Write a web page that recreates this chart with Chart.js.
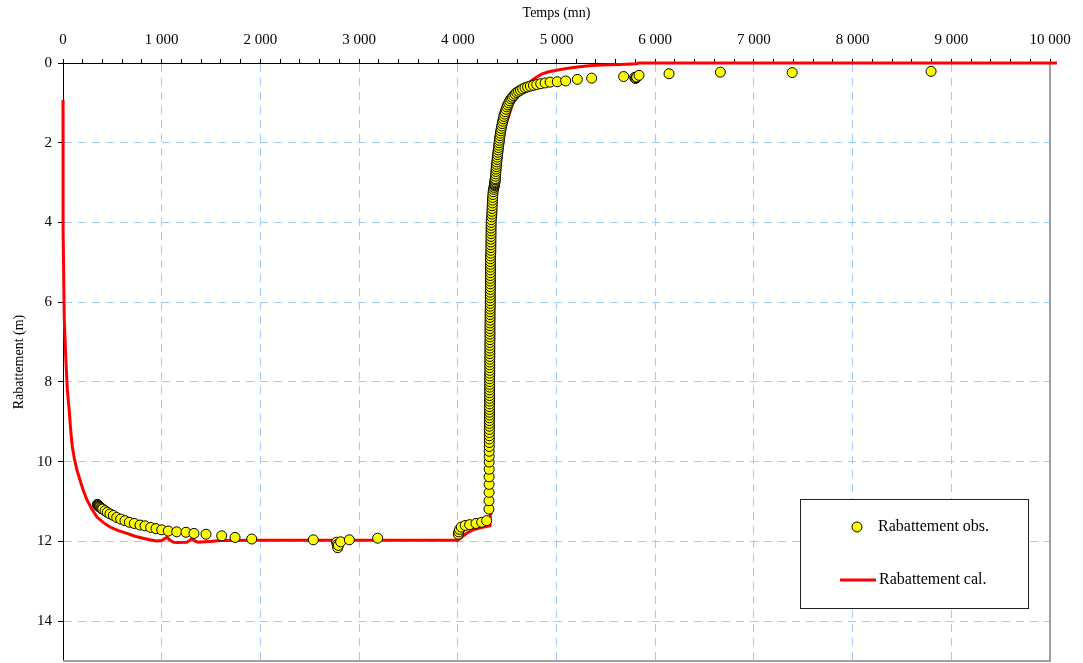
<!DOCTYPE html>
<html>
<head>
<meta charset="utf-8">
<title>Rabattement</title>
<script src="https://cdn.jsdelivr.net/npm/chart.js@4/dist/chart.umd.min.js"></script>
<style>
  html, body { margin: 0; padding: 0; background: #ffffff; }
  #wrap { width: 1083px; height: 663px; }
</style>
</head>
<body>
<div id="wrap"><canvas id="c" width="1083" height="663"></canvas></div>
<script>
// Top axis labels (every 1000 min)
const xTickLabels = ['0', '1 000', '2 000', '3 000', '4 000', '5 000', '6 000', '7 000', '8 000', '9 000', '10 000'];

// Observed drawdown: time (min) and drawdown (m)
const obsTime = [
  348, 352, 358, 363, 368, 375, 385, 393, 402, 426, 449, 476, 510, 544, 584, 628, 672, 722, 780, 831,
  888, 942, 1000, 1067, 1152, 1246, 1327, 1449, 1608, 1743, 1912, 2536, 2772, 2778, 2783, 2790, 2813, 2901, 3188,
  4005, 4010, 4018, 4035, 4075, 4120, 4184, 4242, 4292,
  4316, 4316, 4317, 4317, 4317, 4318, 4318, 4318, 4318, 4319, 4319, 4319, 4319, 4320, 4320, 4320, 4320, 4320,
  4321, 4321, 4321, 4321, 4321, 4322, 4322, 4322, 4322, 4322, 4322, 4323, 4323, 4323, 4323, 4323,
  4324, 4324, 4324, 4324, 4324, 4324, 4325, 4325, 4325, 4325, 4325, 4325, 4326, 4326, 4326, 4326, 4326, 4326, 4326,
  4327, 4327, 4327, 4327, 4328, 4329, 4329, 4329, 4329, 4329, 4329, 4330, 4330, 4330, 4330, 4330, 4330,
  4331, 4331, 4331, 4331, 4331, 4331, 4332, 4334, 4335, 4335, 4335, 4336, 4336, 4336, 4337, 4337, 4337, 4338, 4338, 4339,
  4343, 4345, 4346, 4347, 4348, 4350, 4351, 4353, 4355, 4358, 4362, 4366, 4370, 4372, 4374, 4375, 4377, 4378,
  4380, 4382, 4384, 4386, 4388, 4390, 4393, 4395, 4398, 4400, 4403, 4406, 4409, 4412, 4415, 4418, 4421, 4424, 4428,
  4432, 4436, 4440, 4445, 4450, 4455, 4461, 4467, 4474, 4481, 4489, 4497, 4506, 4516, 4527, 4539, 4552, 4566, 4581,
  4597, 4615, 4635, 4657, 4681, 4707, 4735, 4766, 4800, 4840, 4885, 4935, 5008, 5093, 5211, 5356, 5680,
  5792, 5800, 5806, 5812, 5836, 6140, 6660, 7388, 8795
];
const obsDrawdown = [
  11.07, 11.09, 11.10, 11.12, 11.13, 11.14, 11.16, 11.18, 11.19, 11.23, 11.27, 11.31, 11.35, 11.40, 11.44, 11.48, 11.52, 11.55, 11.59, 11.61,
  11.65, 11.68, 11.71, 11.74, 11.76, 11.77, 11.80, 11.82, 11.86, 11.90, 11.94, 11.96, 12.02, 12.08, 12.16, 12.10, 12.01, 11.96, 11.92,
  11.82, 11.76, 11.70, 11.64, 11.60, 11.58, 11.55, 11.52, 11.48,
  11.19, 10.98, 10.77, 10.57, 10.38, 10.19, 10.01, 9.87, 9.74, 9.62, 9.52, 9.43, 9.35, 9.27, 9.19, 9.11, 9.04, 8.97,
  8.90, 8.83, 8.76, 8.69, 8.62, 8.55, 8.48, 8.41, 8.34, 8.27, 8.20, 8.13, 8.06, 7.99, 7.92, 7.85,
  7.78, 7.71, 7.64, 7.57, 7.50, 7.43, 7.36, 7.29, 7.22, 7.15, 7.08, 7.01, 6.94, 6.87, 6.80, 6.73, 6.66, 6.59, 6.52,
  6.45, 6.38, 6.31, 6.24, 6.17, 6.10, 6.03, 5.96, 5.89, 5.82, 5.75, 5.68, 5.61, 5.54, 5.47, 5.40, 5.33,
  5.26, 5.19, 5.12, 5.05, 4.98, 4.91, 4.84, 4.77, 4.70, 4.63, 4.56, 4.49, 4.42, 4.35, 4.28, 4.21, 4.14, 4.07, 4.00, 3.93,
  3.86, 3.79, 3.72, 3.65, 3.58, 3.51, 3.44, 3.37, 3.30, 3.23, 3.17, 3.12, 3.08, 3.05, 3.03, 3.00, 2.97, 2.93,
  2.90, 2.84, 2.78, 2.72, 2.66, 2.60, 2.54, 2.48, 2.42, 2.36, 2.30, 2.24, 2.18, 2.12, 2.06, 2.00, 1.94, 1.88, 1.82,
  1.76, 1.70, 1.64, 1.58, 1.52, 1.46, 1.40, 1.34, 1.28, 1.22, 1.16, 1.10, 1.05, 1.00, 0.95, 0.90, 0.86, 0.82, 0.78,
  0.74, 0.71, 0.68, 0.65, 0.62, 0.60, 0.58, 0.56, 0.54, 0.52, 0.50, 0.48, 0.47, 0.45, 0.41, 0.38, 0.34,
  0.36, 0.39, 0.37, 0.35, 0.31, 0.27, 0.23, 0.24, 0.21
];

// Computed drawdown: time (min) and drawdown (m)
const calTime = [
  0, 1, 13, 30, 44, 61, 81, 94, 115, 140, 172, 205, 243, 290, 344, 410, 476, 560, 648, 730, 811, 880, 952,
  1000, 1030, 1054, 1085, 1120, 1155, 1256, 1285, 1307, 1335, 1368, 1430, 1489, 1590, 2000, 3000, 4000,
  4050, 4100, 4154, 4240, 4326, 4330, 4333, 4336, 4340, 4345, 4352, 4362, 4378, 4398, 4422, 4450, 4485,
  4520, 4545, 4565, 4600, 4650, 4700, 4750, 4800, 4850, 4920, 5000, 5100, 5210, 5330, 5460, 5640, 5815, 5830, 10070
];
const calDrawdown = [
  0.93, 4.19, 6.45, 7.49, 8.20, 8.66, 9.29, 9.62, 9.92, 10.20, 10.46, 10.72, 10.96, 11.18, 11.39, 11.53, 11.64, 11.73, 11.80, 11.87, 11.92, 11.96, 11.99,
  11.98, 11.93, 11.90, 11.97, 12.02, 12.03, 12.02, 11.97, 11.93, 11.99, 12.02, 12.01, 12.00, 11.98, 11.97, 11.97, 11.97,
  11.87, 11.78, 11.71, 11.65, 11.61, 11.30, 10.00, 8.50, 7.00, 5.50, 4.50, 3.70, 3.00, 2.50, 2.10, 1.80, 1.55,
  1.30, 1.10, 0.95, 0.82, 0.66, 0.54, 0.44, 0.35, 0.28, 0.22, 0.18, 0.14, 0.10, 0.07, 0.05, 0.035, 0.02, 0.0, 0.0
];

const SERIF = '"Liberation Serif", "Times New Roman", "DejaVu Serif", serif';
Chart.defaults.font.family = SERIF;
Chart.defaults.color = '#000000';

const obsPoints = obsTime.map((t, i) => ({ x: t, y: obsDrawdown[i] }));
const calPoints = calTime.map((t, i) => ({ x: t, y: calDrawdown[i] }));

const GRID_BLUE = '#9fcbfa';

// Grey frame on the right and bottom sides of the plot area
const plotFrame = {
  id: 'plotFrame',
  beforeDatasetsDraw(chart) {
    const { ctx, chartArea: a } = chart;
    ctx.save();
    ctx.strokeStyle = '#a0a0a0';
    ctx.lineWidth = 2;
    ctx.beginPath();
    ctx.moveTo(a.right, a.top);
    ctx.lineTo(a.right, a.bottom);
    ctx.lineTo(a.left, a.bottom);
    ctx.stroke();
    ctx.restore();
  }
};

// Boxed legend inside the plot area, lower right
const boxLegend = {
  id: 'boxLegend',
  afterDatasetsDraw(chart) {
    const { ctx, chartArea: a } = chart;
    const [obs, cal] = chart.data.datasets;
    const x0 = a.right - 250, y0 = a.bottom - 162, w = 228, h = 109;
    ctx.save();
    ctx.fillStyle = '#ffffff';
    ctx.fillRect(x0, y0, w, h);
    ctx.strokeStyle = '#222222';
    ctx.lineWidth = 1;
    ctx.strokeRect(x0 + 0.5, y0 + 0.5, w, h);

    ctx.font = '16px ' + SERIF;
    ctx.textAlign = 'left';
    ctx.textBaseline = 'middle';

    ctx.beginPath();
    ctx.arc(x0 + 57, y0 + 28, 5, 0, Math.PI * 2);
    ctx.fillStyle = obs.backgroundColor;
    ctx.fill();
    ctx.lineWidth = obs.borderWidth;
    ctx.strokeStyle = obs.borderColor;
    ctx.stroke();
    ctx.fillStyle = '#000000';
    ctx.fillText(obs.label, x0 + 78, y0 + 28);

    ctx.beginPath();
    ctx.moveTo(x0 + 40, y0 + 81);
    ctx.lineTo(x0 + 76, y0 + 81);
    ctx.strokeStyle = cal.borderColor;
    ctx.lineWidth = cal.borderWidth;
    ctx.stroke();
    ctx.fillStyle = '#000000';
    ctx.fillText(cal.label, x0 + 79, y0 + 81);
    ctx.restore();
  }
};

new Chart(document.getElementById('c'), {
  type: 'scatter',
  data: {
    datasets: [
      {
        label: 'Rabattement obs.',
        data: obsPoints,
        showLine: false,
        pointRadius: 5,
        pointHoverRadius: 5,
        backgroundColor: '#ffff00',
        borderColor: '#000000',
        borderWidth: 1,
        order: 0
      },
      {
        label: 'Rabattement cal.',
        data: calPoints,
        showLine: true,
        pointRadius: 0,
        borderColor: '#ff0000',
        backgroundColor: '#ff0000',
        borderWidth: 3,
        tension: 0,
        clip: 10,
        order: 1
      }
    ]
  },
  options: {
    responsive: false,
    animation: false,
    events: [],
    layout: { autoPadding: false, padding: { left: 0, top: 0, right: 33, bottom: 2 } },
    plugins: {
      legend: { display: false },
      tooltip: { enabled: false }
    },
    scales: {
      x: {
        type: 'linear',
        position: 'top',
        min: 0,
        max: 10000,
        afterFit(scale) { scale.height = 63; },
        ticks: {
          stepSize: 200,
          autoSkip: false,
          maxRotation: 0,
          padding: 10,
          font: { size: 15 },
          callback(value) {
            return value % 1000 === 0 ? xTickLabels[value / 1000] : '';
          }
        },
        grid: {
          color: (c) => (c.tick && c.tick.value % 1000 === 0 ? GRID_BLUE : 'rgba(0,0,0,0)'),
          lineWidth: 1,
          tickColor: '#000000',
          tickLength: 4,
          tickWidth: 1
        },
        border: { display: true, color: '#000000', width: 1, dash: [8, 6] },
        title: {
          display: true,
          text: 'Temps (mn)',
          font: { size: 14 },
          padding: { top: 5, bottom: 0 }
        }
      },
      y: {
        type: 'linear',
        position: 'left',
        reverse: true,
        min: 0,
        max: 15,
        afterFit(scale) {
          scale.width = 63;
          scale.paddingTop = 0;
          scale.paddingBottom = 0;
        },
        ticks: {
          stepSize: 2,
          includeBounds: false,
          padding: 6,
          font: { size: 15 }
        },
        grid: {
          color: GRID_BLUE,
          lineWidth: 1,
          tickColor: '#000000',
          tickLength: 5,
          tickWidth: 1
        },
        border: { display: true, color: '#000000', width: 1, dash: [8, 6] },
        title: {
          display: true,
          text: 'Rabattement (m)',
          font: { size: 14 },
          padding: { top: 11, bottom: 0 }
        }
      }
    }
  },
  plugins: [plotFrame, boxLegend]
});
</script>
</body>
</html>
